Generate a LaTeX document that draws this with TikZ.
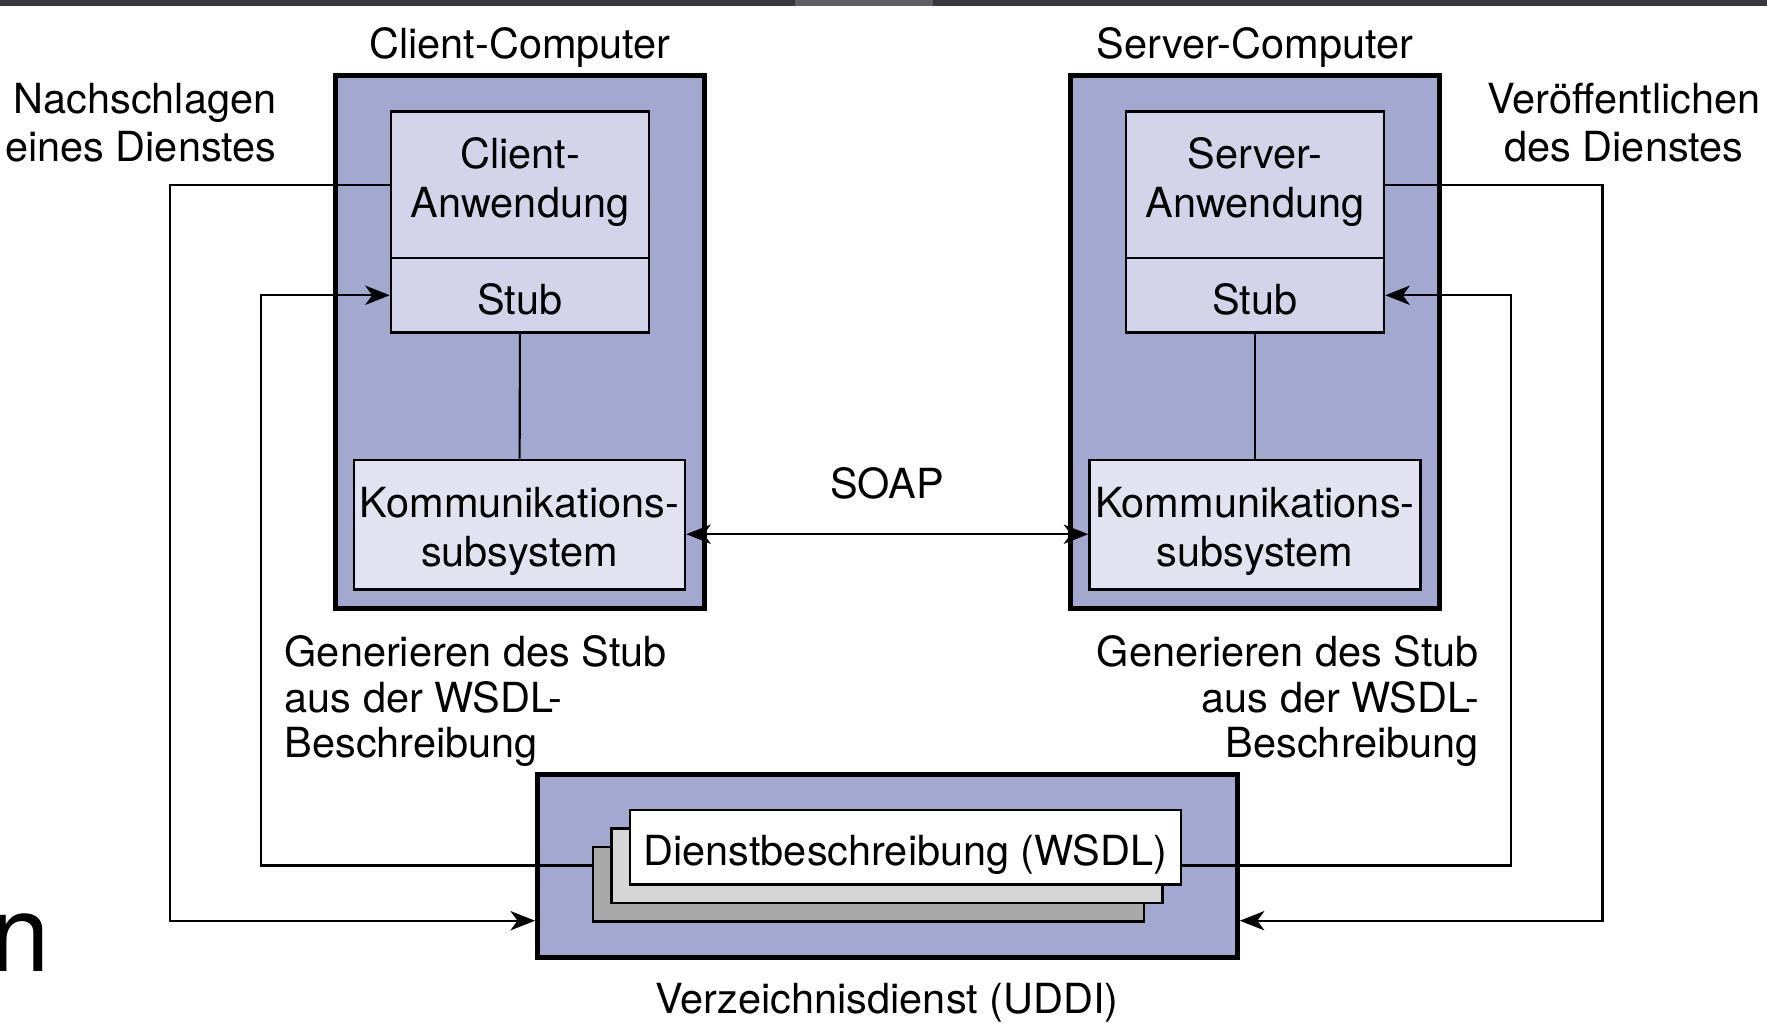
\documentclass[tikz,border=0pt]{standalone}
\usepackage{fontspec}
\setmainfont{TeX Gyre Heros}
\usepackage{tikz}
\usetikzlibrary{arrows.meta}
\definecolor{hostblue}{HTML}{A3A8D0}
\definecolor{applav}{HTML}{D3D4E9}
\definecolor{kommlav}{HTML}{E2E2F0}
\definecolor{docgray}{HTML}{A9A9A9}
\definecolor{docsilver}{HTML}{D6D6D6}
\definecolor{barcol}{HTML}{38373C}
\tikzset{>={Stealth[length=7pt,width=5.5pt,inset=2pt]}}

\begin{document}
\begin{tikzpicture}[every node/.style={font=\fontsize{11.8}{13.6}\selectfont, inner sep=0pt}]
\tikzset{hostbox/.style={draw, line width=1.4pt, fill=hostblue, minimum width=3.69cm, minimum height=5.33cm}}
\tikzset{appbox/.style={draw, line width=0.7pt, fill=applav, minimum width=2.58cm}}
\tikzset{kommbox/.style={draw, line width=0.7pt, fill=kommlav, minimum width=3.31cm, minimum height=1.296cm}}
\tikzset{docsheet/.style={draw, line width=0.7pt, minimum width=5.51cm, minimum height=0.744cm}}
\tikzset{wire/.style={line width=0.6pt}}
\tikzset{boxtext/.style={align=center, font=\fontsize{11.8}{13.8}\selectfont}}
\tikzset{gentext/.style={font=\fontsize{11.8}{13}\selectfont}}
    \useasboundingbox (0,0) rectangle (17.67,10.32);
    \fill[barcol] (0,10.26) rectangle (17.67,10.32);
    \fill[barcol!80!white] (7.95,10.26) rectangle (9.33,10.32);
    \node[anchor=base west, font=\fontsize{30.5}{33}\selectfont] (cutn) at (-0.1,0.61) {n};

    % client side
    \node[hostbox] (ccomp) at (5.2,6.9) {};
    \node[appbox, minimum height=1.465cm] (capp) at (5.2,8.4715) {};
    \node[appbox, minimum height=0.743cm] (cstub) at (5.2,7.3675) {};
    \node[kommbox] (ckomm) at (5.195,5.074) {};
    \node[boxtext] (capptext) at ([yshift=0.028cm]capp.center) {Client-\\Anwendung};
    \node[boxtext] (cstubtext) at ([yshift=-0.045cm]cstub.center) {Stub};
    \node[boxtext, font=\fontsize{11.8}{14.1}\selectfont] (ckommtext) at ([yshift=-0.07cm]ckomm.center) {Kommunikations-\\subsystem};
    \node (clabel) at (5.2,9.847) {Client-Computer};
% % % % % % % % % % % % % % % % % % %
    % server side
    \node[hostbox] (scomp) at (12.55,6.9) {};
    \node[appbox, minimum height=1.465cm] (sapp) at (12.55,8.4715) {};
    \node[appbox, minimum height=0.743cm] (sstub) at (12.55,7.3675) {};
    \node[kommbox] (skomm) at (12.55,5.074) {};
    \node[boxtext] (sapptext) at ([yshift=0.028cm]sapp.center) {Server-\\Anwendung};
    \node[boxtext] (sstubtext) at ([yshift=-0.045cm]sstub.center) {Stub};
    \node[boxtext, font=\fontsize{11.8}{14.1}\selectfont] (skommtext) at ([yshift=-0.07cm]skomm.center) {Kommunikations-\\subsystem};
    \node (slabel) at (12.55,9.847) {Server-Computer};
% % % % % % % % % % % % % % % % % % %
    % directory
    \node[draw, line width=1.4pt, fill=hostblue, minimum width=6.998cm, minimum height=1.837cm] (uddi) at (8.874,1.6595) {};
    \node[docsheet, fill=docgray] (dback) at (8.684,1.476) {};
    \node[docsheet, fill=docsilver] (dmid) at (8.869,1.661) {};
    \node[docsheet, fill=white] (dfront) at (9.0545,1.846) {};
    \node (dtext) at ([yshift=-0.07cm]dfront.center) {Dienstbeschreibung (WSDL)};
    \node (ulabel) at (8.869,0.291) {Verzeichnisdienst (UDDI)};

    \coordinate (ql) at (1.702,1.113);
    \coordinate (qr) at (16.025,1.113);
    \coordinate (wl) at (2.614,1.665);
    \coordinate (wr) at (15.112,1.665);

    \draw[wire] (cstub) -- (ckomm);
    \draw[wire] (sstub) -- (skomm);
    \draw[wire, <->] ([yshift=-0.096cm]ckomm.east) -- ([yshift=-0.096cm]skomm.west);
    \node (soap) at (8.87,5.487) {SOAP};

    \draw[wire, ->] (capp.west) -| (ql) -- (uddi.west |- ql);
    \draw[wire, ->] (sapp.east) -| (qr) -- (uddi.east |- qr);
    \draw[wire, ->] (dback.west |- wl) -- (wl) |- (cstub.west);
    \draw[wire, ->] (dfront.east |- wr) -- (wr) |- (sstub.east);

    \node[anchor=east, align=right] (lookup) at (2.77,9.092) {Nachschlagen\\eines Dienstes};
    \node[align=center] (publish) at (16.239,9.092) {Veröffentlichen\\des Dienstes};
    \node[gentext, anchor=west, align=left] (cgen) at (2.84,3.309) {Generieren des Stub\\aus der WSDL-\\Beschreibung};
    \node[gentext, anchor=east, align=right] (sgen) at (14.796,3.309) {Generieren des Stub\\aus der WSDL-\\Beschreibung};
\end{tikzpicture}
\end{document}
